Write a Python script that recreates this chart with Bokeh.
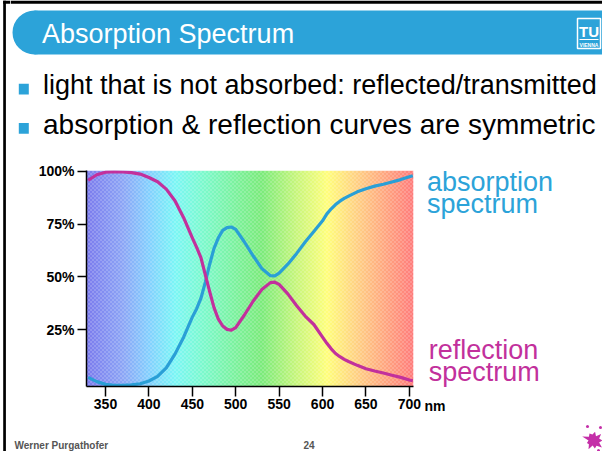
import numpy as np
from bokeh.plotting import figure
from bokeh.layouts import row, column
from bokeh.models import Range1d, FixedTicker
from bokeh.core.properties import value
from bokeh.embed import file_html
from bokeh.resources import INLINE

# ---------------- data ----------------
wavelength = [330, 340, 350, 360, 370, 380, 390, 400, 410, 420, 430, 440, 450, 455, 460,
              465, 470, 475, 480, 485, 490, 495, 500, 510, 520, 530, 540, 545, 550, 560,
              570, 580, 590, 600, 605, 610, 615, 620, 625, 630, 640, 650, 660, 670, 680,
              690, 700, 704]
absorption = [2.5, 0.5, -0.8, -1.2, -1.2, -1.0, -0.5, 0.8, 3.0, 7.0, 13.5, 21.5, 31.0, 35.0, 40.0,
              47.5, 56.0, 63.5, 68.5, 72.0, 73.3, 73.6, 72.5, 66.5, 60.0, 54.0, 50.6, 50.5, 51.8, 56.0,
              61.0, 66.5, 71.5, 76.5, 79.8, 82.2, 84.2, 85.8, 87.1, 88.2, 90.2, 91.7, 92.9, 93.8, 94.9,
              96.0, 97.3, 97.8]
reflection = [95.7, 98.3, 99.5, 99.7, 99.6, 99.3, 98.6, 97.0, 95.0, 91.5, 86.0, 78.0, 68.5, 64.0, 59.0,
              51.0, 43.0, 35.5, 30.0, 26.8, 25.2, 24.8, 26.0, 32.0, 38.5, 44.0, 47.3, 47.5, 46.5, 42.0,
              36.5, 31.5, 27.5, 21.5, 18.6, 16.0, 13.8, 12.3, 11.0, 10.0, 8.2, 6.6, 5.5, 4.6, 3.5,
              2.5, 1.3, 0.9]

x_ticks = [350, 400, 450, 500, 550, 600, 650, 700]
y_ticks = [25, 50, 75, 100]
y_tick_labels = {25: "25%", 50: "50%", 75: "75%", 100: "100%"}

# background spectrum colour stops (wavelength, rgb)
stop_nm = [328, 370, 400, 430, 460, 500, 530, 570, 605, 640, 705]
stop_rgb = [(100, 100, 235), (120, 150, 245), (110, 200, 255), (100, 245, 245),
            (100, 250, 200), (100, 240, 140), (100, 232, 100), (190, 245, 100),
            (255, 255, 100), (255, 200, 110), (255, 100, 100)]

title = "Absorption Spectrum"
bullets = ["light that is not absorbed: reflected/transmitted",
           "absorption & reflection curves are symmetric"]
bullet_sizes = [27, 28]
footer_author = "Werner Purgathofer"
footer_page = "24"

BLUE = "#2CA3D9"
CURVE_BLUE = "#2A9FD6"
MAGENTA = "#C2309C"
FONT = "Liberation Sans"
BASE_SHIFT = 0.35   # empirical correction of the alphabetic baseline


def deco(x0, y0, w, h):
    """Decorative panel in page-pixel coordinates (y downwards)."""
    f = figure(width=w, height=h, output_backend="svg", toolbar_location=None,
               x_range=Range1d(x0, x0 + w), y_range=Range1d(y0 + h, y0),
               min_border=0, x_axis_type=None, y_axis_type=None, frame_align=False)
    f.outline_line_color = None
    f.background_fill_color = "white"
    f.border_fill_color = "white"
    return f


def txt(f, s, x, y, size, color, style="normal", align="left"):
    f.text(x=[x], y=[y - BASE_SHIFT * size], text=[s], text_font=value(FONT),
           text_font_size=f"{size}px", text_color=color, text_font_style=style,
           text_align=align, text_baseline="alphabetic")


# ---------------- left slide edge ----------------
strip = deco(0, 0, 10, 451)
strip.quad(left=2.7, right=5.4, top=0, bottom=451, fill_color="black", line_color=None)
strip.quad(left=2.7, right=10, top=0, bottom=3.3, fill_color="black", line_color=None)

# ---------------- header ----------------
head = deco(10, 0, 592, 150)
head.quad(left=10, right=602, top=0, bottom=3.3, fill_color="black", line_color=None)
head.quad(left=34, right=620, top=10, bottom=54, fill_color=BLUE, line_color=None)
head.ellipse(x=34, y=32, width=44, height=44, fill_color=BLUE, line_color=None)
txt(head, title, 41.5, 43.3, 27, "white")
# TU logo
head.quad(left=577, right=600, top=18, bottom=48, fill_color=None, line_color="white",
          line_width=1.5)
txt(head, "TU", 588.5, 36, 15, "white", style="bold", align="center")
head.quad(left=579, right=598, top=38.5, bottom=39.5, fill_color="white", line_color=None)
txt(head, "VIENNA", 588.5, 46, 5, "white", style="bold", align="center")
# bullets
for k, t in enumerate(bullets):
    base_y = 94 + k * 39.3
    head.quad(left=18.3, right=28.3, top=base_y - 10.7, bottom=base_y, fill_color=BLUE,
              line_color=None)
    txt(head, t, 42.5, base_y, bullet_sizes[k], "black")

# ---------------- chart ----------------
X0, X1 = 328.1, 704.8
Y0, Y1 = -1.8, 100.3
p = figure(width=412, height=270, output_backend="svg", toolbar_location=None,
           x_range=Range1d(X0, X1), y_range=Range1d(Y0, Y1),
           min_border_left=76, min_border_right=9, min_border_top=20,
           min_border_bottom=34, frame_align=False)
p.grid.visible = False
p.outline_line_color = None
p.background_fill_color = "white"
p.border_fill_color = "white"

W, H = 327, 216
cols_nm = X0 + (np.arange(W) + 0.5) / W * (X1 - X0)
chan = [np.interp(cols_nm, stop_nm, [c[k] for c in stop_rgb]) for k in range(3)]
img = np.zeros((H, W, 4), dtype=np.uint8)
ii, jj = np.mgrid[0:H, 0:W]
mask = (((ii + jj) % 4) == 0) | (((ii - jj) % 4) == 0)
for k in range(3):
    base = np.tile(chan[k], (H, 1))
    light = base + (255 - base) * 0.6
    img[:, :, k] = np.where(mask, light, base).astype(np.uint8)
img[:, :, 3] = 255
img32 = img.view(dtype=np.uint32).reshape((H, W))
p.image_rgba(image=[img32], x=X0, y=Y0, dw=X1 - X0, dh=Y1 - Y0)

p.line(wavelength, absorption, line_color=CURVE_BLUE, line_width=3.2, line_join="round")
p.line(wavelength, reflection, line_color=MAGENTA, line_width=3.2, line_join="round")

for ax in (p.xaxis[0], p.yaxis[0]):
    ax.major_label_text_font = FONT
    ax.major_label_text_font_style = "bold"
    ax.major_label_text_font_size = "14px"
    ax.major_label_text_color = "black"
    ax.axis_line_color = "black"
    ax.axis_line_width = 1.5
    ax.major_tick_line_color = "black"
    ax.major_tick_line_width = 1.5
    ax.major_tick_in = 0
    ax.major_tick_out = 10
    ax.minor_tick_line_color = None
p.xaxis.ticker = FixedTicker(ticks=x_ticks)
p.yaxis.ticker = FixedTicker(ticks=y_ticks)
p.yaxis.major_label_overrides = y_tick_labels
p.xaxis.major_label_standoff = 2
p.yaxis.major_label_standoff = 3
p.yaxis.major_tick_out = 9

# ---------------- curve labels ----------------
side = deco(422, 150, 180, 270)
txt(side, "absorption", 426.5, 190.7, 27, BLUE)
txt(side, "spectrum", 426.5, 213.3, 27, BLUE)
txt(side, "reflection", 428.3, 359.3, 27, MAGENTA)
txt(side, "spectrum", 428.3, 380.7, 27, MAGENTA)
txt(side, "nm", 424, 410.5, 14, "black", style="bold")

# ---------------- footer ----------------
foot = deco(10, 420, 592, 31)
txt(foot, footer_author, 14, 448, 10, "#555555", style="bold")
txt(foot, footer_page, 303, 448, 10, "#555555", style="bold")
ang = np.linspace(0, 2 * np.pi, 19)[:-1]
rad = np.array([9, 6, 11, 6, 8, 5, 10, 6, 7, 5, 12, 6, 8, 6, 9, 5, 10, 6])
foot.patch(593 + rad * np.cos(ang), 440 + rad * np.sin(ang), fill_color="#C42FA8",
           line_color=None)
foot.ellipse(x=[600, 587, 598], y=[427, 426, 450], width=3, height=3, fill_color="#C42FA8",
             line_color=None)

layout = row(strip, column(head, row(p, side), foot))
open("out.html", "w").write(file_html(layout, INLINE))
